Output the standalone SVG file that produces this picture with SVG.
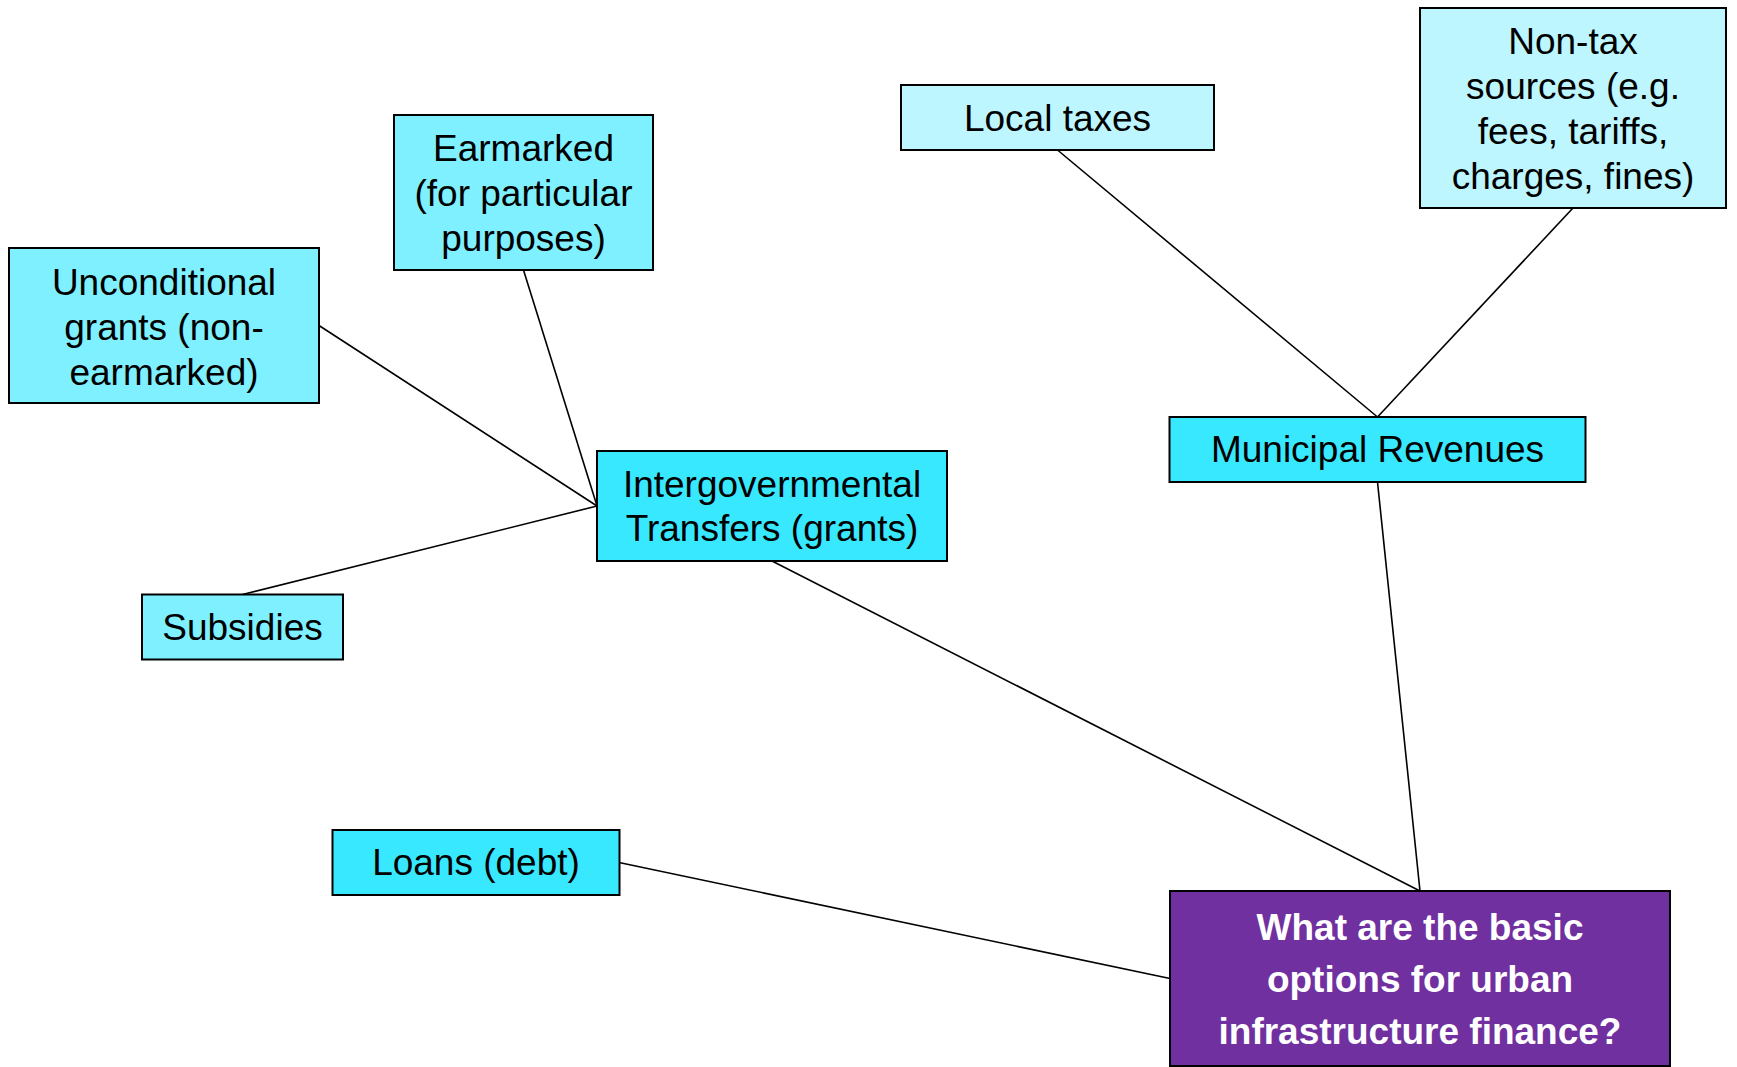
<svg xmlns="http://www.w3.org/2000/svg" width="1737" height="1067" viewBox="0 0 1737 1067">
  <style>
    .box { stroke: #000; stroke-width: 2; }
    .pale { fill: #BDF6FF; }
    .light { fill: #7FF0FF; }
    .bright { fill: #38E8FF; }
    .purple { fill: #7030A0; }
    .lbl { font-family: "Liberation Sans", Arial, sans-serif; font-size: 37px; fill: #000; text-anchor: middle; }
    .q { font-family: "Liberation Sans", Arial, sans-serif; font-size: 37px; font-weight: bold; fill: #fff; text-anchor: middle; }
    .edge { stroke: #000; stroke-width: 1.6; fill: none; }
  </style>
  <rect width="1737" height="1067" fill="#fff"/>

  <g id="connectors">
    <line class="edge" x1="319" y1="325.5" x2="597" y2="506"/>
    <line class="edge" x1="523.5" y1="270" x2="597" y2="506"/>
    <line class="edge" x1="242.5" y1="594.5" x2="597" y2="506"/>
    <line class="edge" x1="772" y1="561" x2="1420" y2="891"/>
    <line class="edge" x1="1057.5" y1="150" x2="1377.5" y2="417"/>
    <line class="edge" x1="1573" y1="208" x2="1377.5" y2="417"/>
    <line class="edge" x1="1377.5" y1="482" x2="1420" y2="891"/>
    <line class="edge" x1="619" y1="862.5" x2="1170" y2="978.5"/>
  </g>

  <g id="non-tax">
    <rect class="box pale" x="1420" y="8" width="306" height="200"/>
    <text class="lbl" x="1573" y="54">Non-tax</text>
    <text class="lbl" x="1573" y="99">sources (e.g.</text>
    <text class="lbl" x="1573" y="144">fees, tariffs,</text>
    <text class="lbl" x="1573" y="189">charges, fines)</text>
  </g>

  <g id="local-taxes">
    <rect class="box pale" x="901" y="85" width="313" height="65"/>
    <text class="lbl" x="1057.5" y="131">Local taxes</text>
  </g>

  <g id="earmarked">
    <rect class="box light" x="394" y="115" width="259" height="155"/>
    <text class="lbl" x="523.5" y="161">Earmarked</text>
    <text class="lbl" x="523.5" y="206">(for particular</text>
    <text class="lbl" x="523.5" y="251">purposes)</text>
  </g>

  <g id="unconditional">
    <rect class="box light" x="9" y="248" width="310" height="155"/>
    <text class="lbl" x="164" y="295">Unconditional</text>
    <text class="lbl" x="164" y="340">grants (non-</text>
    <text class="lbl" x="164" y="385">earmarked)</text>
  </g>

  <g id="intergovernmental">
    <rect class="box bright" x="597" y="451" width="350" height="110"/>
    <text class="lbl" x="772" y="497">Intergovernmental</text>
    <text class="lbl" x="772" y="541">Transfers (grants)</text>
  </g>

  <g id="municipal-revenues">
    <rect class="box bright" x="1169.5" y="417" width="416" height="65"/>
    <text class="lbl" x="1377.5" y="462">Municipal Revenues</text>
  </g>

  <g id="subsidies">
    <rect class="box light" x="142" y="594.5" width="201" height="65"/>
    <text class="lbl" x="242.5" y="640">Subsidies</text>
  </g>

  <g id="loans">
    <rect class="box bright" x="332.5" y="830" width="287" height="65"/>
    <text class="lbl" x="476" y="875">Loans (debt)</text>
  </g>

  <g id="question">
    <rect class="box purple" x="1170" y="891" width="500" height="175"/>
    <text class="q" x="1420" y="940">What are the basic</text>
    <text class="q" x="1420" y="992">options for urban</text>
    <text class="q" x="1420" y="1044">infrastructure finance?</text>
  </g>
</svg>
